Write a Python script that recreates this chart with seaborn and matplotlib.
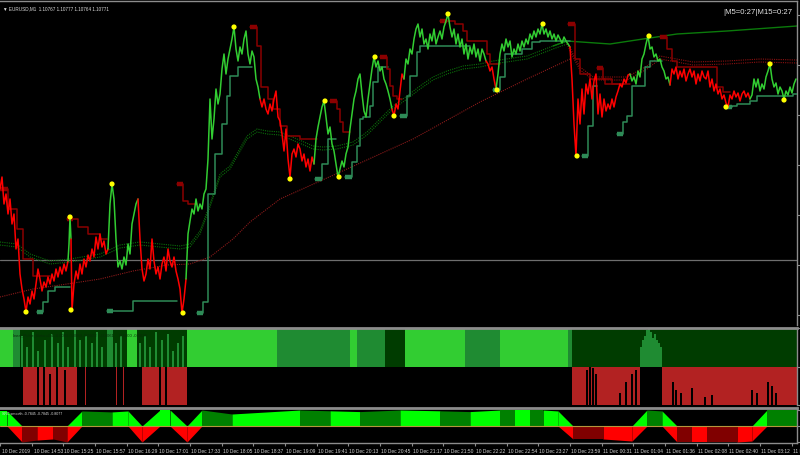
import numpy as np
import pandas as pd
import matplotlib
matplotlib.use("Agg")
import matplotlib.pyplot as plt
import matplotlib.transforms as mtransforms
import seaborn as sns
from matplotlib import font_manager

# ==========================================
# DATA
# price levels are points above 1.10000
# ==========================================

# close, sampled every 2nd bar (plus the spike at 69-71)
close_pts = [
    676, 688, 661, 671, 651, 666, 641, 651, 616, 626, 591, 576, 566, 553, 568, 561, 574, 566,
    581, 596, 586, 574, 583, 578, 588, 581, 591, 584, 596, 588, 598, 591, 601, 594, 604,
    621, 648, 626,
    555, 581, 594, 586, 601, 591, 606, 598, 610, 604, 616, 608, 628, 616, 631, 618, 624, 611, 616,
    661, 681, 666, 626, 598, 604, 596, 608, 600, 621, 611, 641, 651, 661, 666,
    626, 596, 584, 591, 606, 596, 626, 604, 591, 598, 586, 601, 608, 594, 616, 604, 598, 608,
    594, 586, 576, 552, 566, 586,
    631, 644, 656, 651, 666, 654, 661, 656, 671, 676, 706, 766, 726, 746, 776, 761, 771, 796,
    811, 791, 806, 816, 826, 838, 816, 804, 818, 811, 826, 834, 811, 801, 814, 808, 786, 778, 766,
    758, 766, 756, 751, 761, 754, 766, 774, 748, 744, 731, 714, 736, 706, 688, 711, 716, 708,
    721, 716, 704, 711, 698, 706, 694, 708, 701,
    726, 738, 748, 758, 764, 748, 731, 738, 721, 714, 701, 688, 696, 704, 698, 711, 718, 736,
    751, 766, 774, 786, 791, 771, 754, 748, 766, 781, 796, 808, 798, 804, 794, 798, 786, 781,
    774, 766, 756,
    749, 761, 756, 774, 791, 786,
    806, 801, 816, 811, 826, 836, 841, 828, 836, 821, 826, 816, 831, 824, 836, 821, 828, 834,
    826, 838, 844, 851, 838, 828, 836, 821, 831, 818, 826, 811, 821, 806, 818, 811, 821, 808,
    816, 804, 816, 811, 804,
    801, 794, 798, 786, 776,
    791, 811, 821, 814, 826, 818, 824, 808, 816, 811, 821, 814, 824, 818, 826, 821, 831, 826,
    834, 828, 836, 831, 841, 831, 836, 828, 834, 826, 831, 824, 830, 826, 822, 828, 824, 821, 818,
    786, 741, 709, 766, 741, 776, 751, 781, 771, 786, 766, 784, 791, 751, 771, 748, 766, 754,
    761, 756, 766, 758, 768, 774, 781, 778, 786, 782, 790, 791,
    784, 788, 781, 794, 788, 806, 811, 821, 829, 816, 818, 808, 811, 804, 806, 798, 794, 786,
    788, 780,
    796, 791, 798, 786, 794, 788, 796, 784, 791, 796, 788, 794, 781, 791, 784, 794, 788, 786,
    794, 778, 786, 774, 781, 771, 776, 766, 770, 762, 758, 770, 766, 774, 768, 772, 764, 771,
    774, 768, 772, 766,
    770, 786, 778, 786, 774, 781, 776, 788, 794, 801, 786, 778, 782, 771, 778, 774, 766, 774,
    770, 778, 772, 781, 786,
]
close_x = list(range(0, 69, 2)) + [69, 70, 71] + list(range(72, 797, 2))

# bars where the close line flips colour (first leg is falling)
leg_start = [0, 69, 72, 110, 140, 188, 262, 316, 394, 406, 488, 498, 572, 632, 672, 752]

# swing points
dot_x = [26, 70, 71, 112, 183, 234, 290, 325, 339, 375, 394, 448, 497, 543, 577, 649, 726, 770, 784]
dot_pts = [553, 648, 555, 681, 552, 838, 686, 764, 688, 808, 749, 851, 775, 841, 709, 829, 758, 801, 765]

# trailing support steps
support_x = [[37, 43, 48, 55, 70], [107, 113, 133, 177],
             [197, 203, 208, 215, 222, 227, 230, 238, 252], [315, 322, 328, 336],
             [345, 352, 357, 360, 363, 370, 373, 378, 388], [400, 407, 410, 417, 420, 470],
             [493, 500, 505, 522, 532, 540, 570], [582, 588, 593, 597],
             [617, 623, 627, 632, 645, 650, 662], [725, 732, 737, 750, 757, 793, 797]]
support_pts = [[553, 563, 574, 578, 578], [554, 554, 564, 564],
               [552, 563, 671, 711, 741, 769, 789, 798, 798], [686, 701, 726, 726],
               [688, 703, 719, 746, 748, 759, 783, 798, 798], [749, 769, 789, 813, 819, 819],
               [775, 788, 811, 816, 823, 824, 824], [709, 739, 779, 779],
               [731, 743, 749, 779, 798, 804, 804], [758, 759, 761, 764, 769, 771, 771]]

# trailing resistance steps
resist_x = [[0, 8, 17, 23, 33, 50], [67, 73, 78, 88, 100, 107], [177, 183, 188, 197],
            [250, 257, 261, 268, 273, 280, 287, 300, 317], [330, 337, 340, 343, 350],
            [380, 387, 390, 393, 397, 402], [440, 447, 455, 463, 467, 487, 490, 500],
            [568, 575, 580, 590, 605, 630], [597, 603, 612, 625],
            [660, 667, 672, 677, 717, 723, 730]]
resist_pts = [[676, 656, 636, 606, 589, 589], [646, 646, 638, 631, 626, 626], [681, 664, 661, 661],
              [838, 819, 778, 766, 756, 739, 729, 726, 726], [764, 756, 743, 733, 733],
              [808, 796, 779, 769, 766, 766], [844, 844, 841, 834, 824, 811, 801, 801],
              [841, 806, 791, 786, 781, 781], [797, 786, 781, 781],
              [828, 816, 804, 798, 778, 773, 773]]

# moving averages
ma_fast_x = [0, 17, 30, 50, 70, 100, 120, 140, 160, 180, 190, 200, 210, 220, 230, 247, 257, 267,
             280, 297, 313, 323, 337, 353, 367, 380, 393, 407, 420, 433, 447, 463, 480, 493, 527,
             553, 567, 573, 580, 593, 627, 647, 660, 693, 727, 760, 797]
ma_fast_pts = [623, 621, 611, 604, 606, 611, 620, 623, 621, 619, 621, 634, 661, 691, 699, 729, 736,
               734, 733, 726, 719, 718, 719, 723, 733, 746, 759, 769, 779, 788, 794, 799, 801, 804,
               809, 819, 824, 811, 798, 788, 788, 799, 809, 803, 804, 806, 805]
ma_fast_turn = 567
ma_slow_x = [0, 33, 67, 100, 133, 167, 190, 210, 233, 250, 280, 347, 413, 480, 527, 570]
ma_slow_pts = [568, 576, 581, 586, 594, 600, 601, 608, 626, 643, 666, 696, 726, 763, 786, 806]
ma_trend_x = [553, 567, 610, 643, 677, 727, 797]
ma_trend_pts = [819, 824, 821, 826, 831, 834, 839]
level_pts = 605

# pulse sub-window: upper band zones
pulse_start = [0, 13, 20, 107, 113, 127, 137, 187, 277, 350, 357, 385, 405, 465, 500, 568, 572]
pulse_kind = ["b", "m", "d", "m", "d", "b", "d", "b", "m", "b", "m", "d", "b", "m", "b", "m", "d"]
spike_x = [22, 27, 33, 38, 45, 52, 58, 63, 68, 75, 80, 86, 92, 97, 102, 116, 121,
           140, 145, 150, 156, 162, 168, 173, 178, 183,
           641, 643, 645, 647, 649, 651, 653, 655, 657, 659, 661]
spike_h = [0.8, 0.5, 0.9, 0.4, 0.7, 0.85, 0.6, 0.9, 0.5, 0.95, 0.7, 0.8, 0.6, 0.9, 0.5, 0.6, 0.8,
           0.6, 0.8, 0.5, 0.9, 0.7, 0.85, 0.4, 0.6, 0.8,
           0.5, 0.7, 0.8, 0.95, 1.0, 0.9, 0.75, 0.85, 0.7, 0.6, 0.5]
# pulse sub-window: lower band red zones and black cut-outs
stress_start = [23, 85, 116, 123, 142, 572, 662]
stress_end = [77, 86, 117, 124, 187, 640, 797]
cut_x = [38, 44, 50, 57, 65, 160, 166, 587, 590, 593, 596, 620, 626, 632, 636,
         673, 676, 681, 692, 705, 712, 752, 757, 768, 772, 776]
cut_h = [1.0, 1.0, 0.8, 1.0, 0.9, 1.0, 1.0, 0.9, 1.0, 0.95, 0.8, 0.3, 0.6, 0.8, 0.9,
         0.6, 0.4, 0.3, 0.45, 0.2, 0.25, 0.4, 0.3, 0.6, 0.5, 0.3]

# SRC smooth sub-window
src_x = [0, 7, 22, 37, 53, 67, 82, 112, 128, 142, 160, 170, 187, 202, 232, 300, 330, 360, 400,
         440, 470, 500, 515, 530, 543, 558, 573, 603, 632, 647, 662, 677, 692, 707, 737, 752,
         767, 797]
src_val = [0.94, 0.94, -1.0, -0.88, -0.81, -1.0, 0.94, 0.88, 0.94, -1.0, 1.0, 1.0, -1.0, 1.0,
           0.75, 1.0, 0.95, 0.9, 1.0, 0.95, 0.9, 1.0, 1.0, 1.0, 1.0, 0.94, -0.81, -0.81, -0.94,
           1.0, 0.94, -1.0, -1.0, -1.0, -1.0, -0.94, 1.0, 1.0]
src_bright = [1, 1, 0, 1, 0, 1, 0, 1, 1, 1, 1, 1, 1, 0, 1, 0, 1, 0, 1, 0, 1, 0, 1, 0, 1, 1, 0, 1,
              1, 0, 1, 0, 1, 0, 1, 1, 0]

tick_pos = [0, 32, 63, 95, 127, 158, 190, 222, 253, 285, 317, 348, 380, 412, 443, 475, 507,
            538, 570, 602, 633, 665, 697, 728, 760, 792]
tick_labels = ["10 Dec 2019", "10 Dec 14:53", "10 Dec 15:25", "10 Dec 15:57", "10 Dec 16:29",
               "10 Dec 17:01", "10 Dec 17:33", "10 Dec 18:05", "10 Dec 18:37", "10 Dec 19:09",
               "10 Dec 19:41", "10 Dec 20:13", "10 Dec 20:45", "10 Dec 21:17", "10 Dec 21:50",
               "10 Dec 22:22", "10 Dec 22:54", "10 Dec 23:27", "10 Dec 23:59", "11 Dec 00:31",
               "11 Dec 01:04", "11 Dec 01:36", "11 Dec 02:08", "11 Dec 02:40", "11 Dec 03:12",
               "11 Dec 03:44"]

# ==========================================
# STYLE
# ==========================================

sns.set_style("dark", {"axes.facecolor": "black", "figure.facecolor": "black"})
installed = {f.name for f in font_manager.fontManager.ttflist}
NARROW = "Liberation Sans Narrow" in installed
small = ["Liberation Sans Narrow", "Liberation Sans", "DejaVu Sans"] if NARROW else ["Liberation Sans", "DejaVu Sans"]
plt.rcParams["font.family"] = small
fs = 1.2 if NARROW else 1.0  # narrow face can be set a bit larger

UP, DOWN = "#32CD32", "#FF0000"
SUP, RES = "#2E8B57", "#8B0000"
GRID = "#8C8C8C"

fig = plt.figure(figsize=(8, 4.56), dpi=100)
W = 797 / 800
ax = fig.add_axes([0, 1 - 326 / 456, W, 324 / 456])
ax2 = fig.add_axes([0, 1 - 406 / 456, W, 77 / 456], sharex=ax)
ax3 = fig.add_axes([0, 1 - 444 / 456, W, 35 / 456], sharex=ax)

for a in (ax, ax2, ax3):
    a.set_facecolor("black")
    a.grid(False)
    for s in a.spines.values():
        s.set_color(GRID)
        s.set_linewidth(1.0)
    a.spines["left"].set_visible(False)
    a.tick_params(left=False, labelleft=False, bottom=False, labelbottom=False)
ax2.spines["top"].set_linewidth(2)
ax3.spines["top"].set_linewidth(2)
ax.spines["bottom"].set_visible(False)
ax2.spines["bottom"].set_visible(False)

ax.set_xlim(0, 797)
ax.set_ylim(540, 864)

# ==========================================
# MAIN WINDOW
# ==========================================

ax.axhline(level_pts, color="#6E6E6E", lw=0.9, zorder=1)

pair = mtransforms.offset_copy(ax.transData, fig=fig, x=0, y=-3, units="dots")
fast = pd.DataFrame({"x": ma_fast_x, "y": ma_fast_pts})
for part, col in [(fast[fast.x <= ma_fast_turn], "#0A6E0A"), (fast[fast.x >= ma_fast_turn], "#8B1010")]:
    for tr in (ax.transData, pair):
        ax.plot(part.x, part.y, color=col, lw=0.8, ls=(0, (1, 1)), transform=tr, zorder=2)
sns.lineplot(x=ma_slow_x, y=ma_slow_pts, ax=ax, color="#8B1A1A", lw=0.8, ls=(0, (1, 1)),
             estimator=None, zorder=2)
sns.lineplot(x=ma_trend_x, y=ma_trend_pts, ax=ax, color="#0B7A0B", lw=1.0, estimator=None, zorder=2)

for xs, ys in zip(support_x, support_pts):
    sns.lineplot(x=xs, y=ys, ax=ax, color=SUP, lw=1.1, drawstyle="steps-post", estimator=None, zorder=3)
    ax.plot(xs[:2], [ys[0], ys[0]], color=SUP, lw=3.2, solid_capstyle="butt", zorder=3)
for xs, ys in zip(resist_x, resist_pts):
    sns.lineplot(x=xs, y=ys, ax=ax, color=RES, lw=1.1, drawstyle="steps-post", estimator=None, zorder=3)
    ax.plot(xs[:2], [ys[0], ys[0]], color=RES, lw=3.2, solid_capstyle="butt", zorder=3)

price = pd.DataFrame({"x": close_x, "y": close_pts})
price["leg"] = np.searchsorted(leg_start, price.x, side="right") - 1
for k in range(len(leg_start)):
    idx = price.index[price.leg == k]
    lo = max(idx.min() - 1, 0)
    seg = price.loc[lo:idx.max()]
    sns.lineplot(data=seg, x="x", y="y", ax=ax, color=DOWN if k % 2 == 0 else UP,
                 lw=1.1, estimator=None, sort=False, zorder=4)

sns.scatterplot(x=dot_x, y=dot_pts, ax=ax, color="#FFFF00", s=14, edgecolor="none", zorder=6)

ax.set_xlabel("")
ax.set_ylabel("")
ax.yaxis.tick_right()
ax.tick_params(right=True, labelright=False, length=2, color=GRID)

fig.text(0.004, 0.981, "\u25bc EURUSD,M1  1.10767 1.10777 1.10764 1.10771", color="#DCDCDC",
         fontsize=3.3 * fs, va="center", family=small)
fig.text(0.991, 0.973, "|M5=0:27|M15=0:27", color="#E6E6E6", fontsize=5.6, ha="right",
         va="center", family=["Liberation Sans", "DejaVu Sans"])

# ==========================================
# PULSE WINDOW
# ==========================================

ax2.set_ylim(-1, 1)
shade = {"b": "#32CD32", "m": "#1F8B32", "d": "#003C00"}
ends = pulse_start[1:] + [797]
for x0, x1, kind in zip(pulse_start, ends, pulse_kind):
    ax2.bar(x0, 1, width=x1 - x0, bottom=0, align="edge", color=shade[kind], lw=0)
ax2.bar(spike_x, spike_h, width=1.6, bottom=0, align="center", color=shade["m"], lw=0)
for x0, x1 in zip(stress_start, stress_end):
    ax2.bar(x0, -1, width=x1 - x0, bottom=0, align="edge", color="#B22222", lw=0)
ax2.bar(cut_x, cut_h, width=1.6, bottom=-1, align="center", color="black", lw=0)
ax2.text(13, 0.83, "Inert_Pulse_Beta c2 4 -0.0063 0.0063 -0.0062   -0.0061     0.0000 -0.0018",
         color="#0A2A0A", fontsize=3.0 * fs, va="center")
ax2.yaxis.tick_right()
ax2.tick_params(right=True, labelright=False, length=2, color=GRID)

# ==========================================
# SRC SMOOTH WINDOW
# ==========================================

ax3.set_ylim(-17 / 16, 18 / 16)
for i in range(len(src_x) - 1):
    xs = np.array(src_x[i:i + 2], dtype=float)
    vs = np.array(src_val[i:i + 2])
    up = "#00FF00" if src_bright[i] else "#008000"
    dn = "#FF0000" if src_bright[i] else "#800000"
    ax3.fill_between(xs, vs, 0, where=[True, True], interpolate=True, color="none", lw=0)
    if vs.min() < 0:
        ax3.fill_between(xs, np.minimum(vs, 0), 0, color=dn, lw=0)
    if vs.max() > 0:
        ax3.fill_between(xs, np.maximum(vs, 0), 0, color=up, lw=0)
ax3.axhline(0, color="#B4963C", lw=0.8)
ax3.text(2, 0.8, "SRC smooth -0.7845 -0.7845 -0.8077", color="#DCDCDC", fontsize=2.6 * fs,
         va="center")

ax3.yaxis.tick_right()
ax3.set_xticks(tick_pos)
ax3.set_xticklabels(tick_labels, ha="left", color="#D2D2D2", fontsize=3.5 * fs)
ax3.tick_params(bottom=True, labelbottom=True, length=2.5, pad=1.0, color=GRID, right=True,
                labelright=False)
for lab in ax3.get_xticklabels():
    lab.set_transform(lab.get_transform() + mtransforms.ScaledTranslation(1.5 / 100, 0, fig.dpi_scale_trans))

fig.savefig("out.png", dpi=100, facecolor="black")
